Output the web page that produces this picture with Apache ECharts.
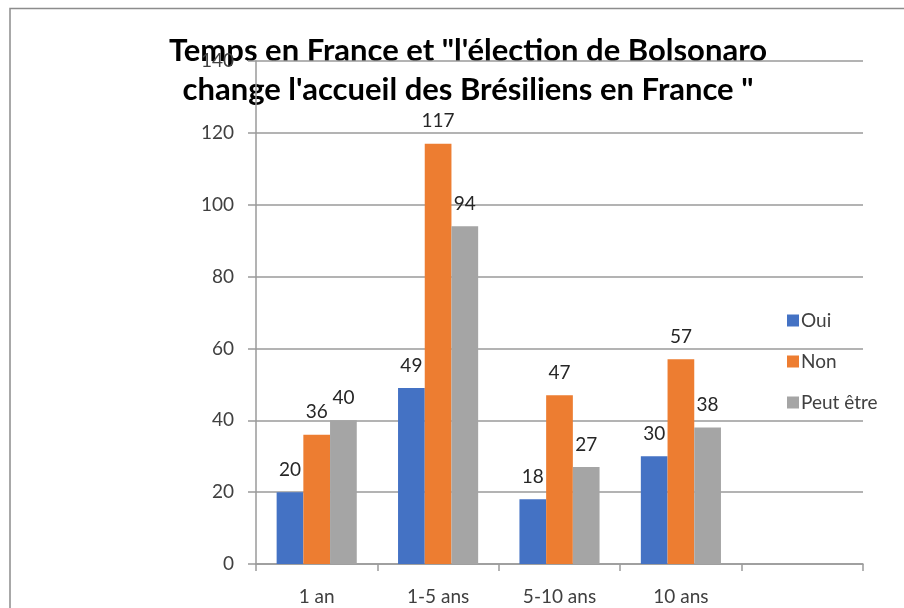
<!DOCTYPE html>
<html>
<head>
<meta charset="utf-8">
<script src="https://cdn.jsdelivr.net/npm/echarts@6/dist/echarts.min.js"></script>
<style>
  html, body { margin: 0; padding: 0; background: #fff; }
  #chart { width: 904px; height: 608px; }
</style>
</head>
<body>
<div id="chart"></div>
<script>
// Durée de séjour en France (la dernière colonne reste vide)
const categories = ['1 an', '1-5 ans', '5-10 ans', '10 ans', ''];
const oui = [20, 49, 18, 30, null];
const non = [36, 117, 47, 57, null];
const peutEtre = [40, 94, 27, 38, null];
const seriesNames = ['Oui', 'Non', 'Peut être'];
const yTicks = { min: 0, max: 140, step: 20 };

const FONT = 'Lato, "Open Sans", sans-serif';
const TEXT = '#404040';
const LINE = '#9a9a9a';
const FS = 19;
// the plot sits on a layer above the title, so the top tick label shows through it
const PLOT_LAYER = 1;

const chart = echarts.init(document.getElementById('chart'), null, { renderer: 'canvas' });

const labelStyle = {
  show: true,
  position: 'top',
  distance: 13,
  fontFamily: FONT,
  fontSize: FS,
  color: '#262626'
};

function barSeries(name, data, color) {
  return {
    name: name,
    type: 'bar',
    zlevel: PLOT_LAYER,
    data: data,
    barGap: '0%',
    barCategoryGap: '34%',
    itemStyle: { color: color },
    label: labelStyle,
    emphasis: { disabled: true }
  };
}

chart.setOption({
  animation: false,
  backgroundColor: '#ffffff',
  title: {
    zlevel: 0,
    text: 'Temps en France et "l\'élection de Bolsonaro\nchange l\'accueil des Brésiliens en France "',
    left: 463,
    top: 26,
    textAlign: 'center',
    textStyle: {
      fontFamily: FONT,
      fontWeight: 'bold',
      fontSize: 31,
      lineHeight: 39,
      color: '#000000'
    }
  },
  legend: {
    zlevel: PLOT_LAYER,
    orient: 'vertical',
    left: 782,
    top: 306,
    itemWidth: 12,
    itemHeight: 12,
    itemGap: 22,
    icon: 'rect',
    data: seriesNames,
    textStyle: { fontFamily: FONT, fontSize: FS, color: TEXT, padding: [0, 0, 0, -3] }
  },
  grid: {
    left: 256,
    right: 41,
    top: 61,
    bottom: 44,
    containLabel: false
  },
  xAxis: {
    type: 'category',
    zlevel: PLOT_LAYER,
    data: categories,
    boundaryGap: true,
    axisLine: { show: true, lineStyle: { color: LINE, width: 1.5 } },
    axisTick: { show: true, length: 7, lineStyle: { color: LINE, width: 1.5 } },
    axisLabel: { fontFamily: FONT, fontSize: FS, color: TEXT, margin: 23 },
    splitLine: { show: false }
  },
  yAxis: {
    type: 'value',
    zlevel: PLOT_LAYER,
    min: yTicks.min,
    max: yTicks.max,
    interval: yTicks.step,
    axisLine: { show: true, lineStyle: { color: LINE, width: 1.5 } },
    axisTick: { show: true, length: 8, lineStyle: { color: LINE, width: 1.5 } },
    axisLabel: { fontFamily: FONT, fontSize: FS, color: TEXT, margin: 22 },
    splitLine: { show: true, lineStyle: { color: LINE, width: 1.5 } }
  },
  graphic: [{
    type: 'polyline',
    silent: true,
    shape: { points: [[10, 610], [10, 8.5], [904, 8.5]] },
    style: { stroke: '#8c8c8c', lineWidth: 1.5, fill: null }
  }],
  series: [
    barSeries(seriesNames[0], oui, '#4472C4'),
    barSeries(seriesNames[1], non, '#ED7D31'),
    barSeries(seriesNames[2], peutEtre, '#A5A5A5')
  ]
});
</script>
</body>
</html>
